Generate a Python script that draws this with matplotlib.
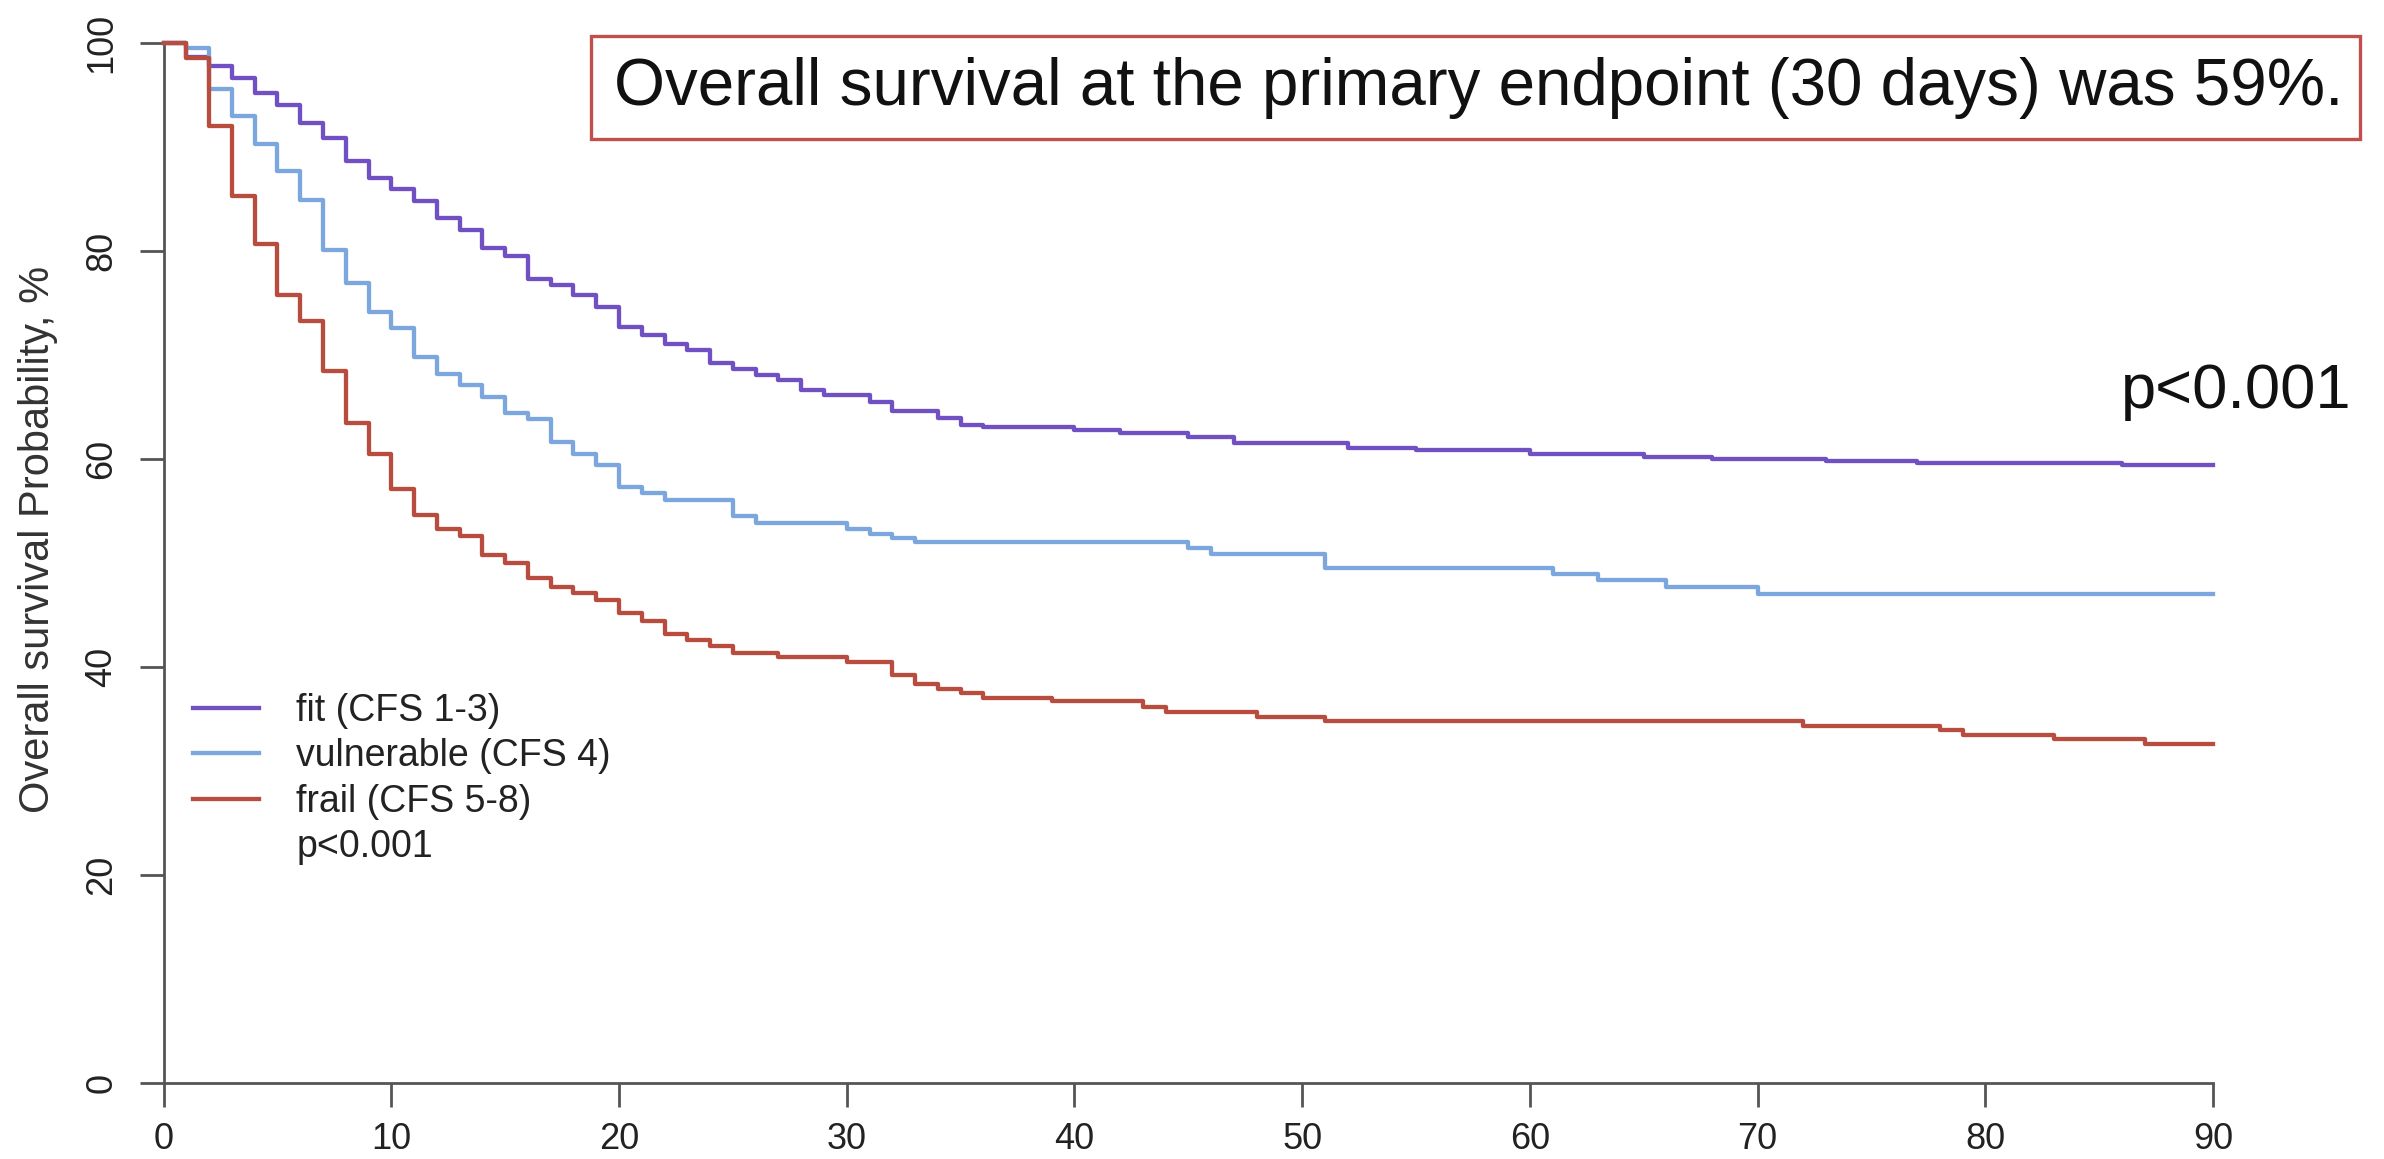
import matplotlib.pyplot as plt
from matplotlib.lines import Line2D
from matplotlib.patches import Rectangle

plt.rcParams['font.family'] = ['Liberation Sans', 'DejaVu Sans']

# Kaplan-Meier steps (day, survival %)
fit_days = [0, 1, 2, 3, 4, 5, 6, 7, 8, 9, 10, 11, 12, 13, 14, 15, 16, 17, 18, 19, 20,
            21, 22, 23, 24, 25, 26, 27, 28, 29, 31, 32, 34, 35, 36, 40, 42, 45, 47,
            52, 55, 60, 65, 68, 73, 77, 86, 90]
fit_surv = [100, 98.7, 97.8, 96.6, 95.2, 94.0, 92.3, 90.9, 88.7, 87.0, 86.0, 84.8, 83.2,
            82.0, 80.3, 79.5, 77.3, 76.7, 75.8, 74.6, 72.7, 71.9, 71.1, 70.5, 69.2, 68.7,
            68.1, 67.6, 66.6, 66.2, 65.5, 64.6, 63.9, 63.3, 63.1, 62.8, 62.5, 62.1, 61.5,
            61.1, 60.9, 60.5, 60.2, 60.0, 59.8, 59.6, 59.4, 59.4]

vuln_days = [0, 1, 2, 3, 4, 5, 6, 7, 8, 9, 10, 11, 12, 13, 14, 15, 16, 17, 18, 19, 20,
             21, 22, 25, 26, 30, 31, 32, 33, 45, 46, 51, 61, 63, 66, 70, 90]
vuln_surv = [100, 99.5, 95.6, 93.0, 90.3, 87.7, 84.9, 80.1, 76.9, 74.1, 72.6, 69.8, 68.2,
             67.1, 66.0, 64.4, 63.8, 61.6, 60.5, 59.4, 57.3, 56.7, 56.1, 54.5, 53.8, 53.3,
             52.8, 52.4, 52.0, 51.4, 50.9, 49.5, 48.9, 48.4, 47.7, 47.0, 47.0]

frail_days = [0, 1, 2, 3, 4, 5, 6, 7, 8, 9, 10, 11, 12, 13, 14, 15, 16, 17, 18, 19, 20,
              21, 22, 23, 24, 25, 27, 30, 32, 33, 34, 35, 36, 39, 43, 44, 48, 51, 72,
              78, 79, 83, 87, 90]
frail_surv = [100, 98.6, 92.0, 85.3, 80.7, 75.8, 73.3, 68.5, 63.5, 60.5, 57.1, 54.6, 53.3,
              52.6, 50.8, 50.0, 48.6, 47.7, 47.1, 46.4, 45.2, 44.4, 43.2, 42.6, 42.0, 41.3,
              41.0, 40.5, 39.2, 38.4, 37.9, 37.5, 37.0, 36.7, 36.2, 35.7, 35.2, 34.8, 34.3,
              33.9, 33.5, 33.1, 32.6, 32.6]

labels = ['fit (CFS 1-3)', 'vulnerable (CFS 4)', 'frail (CFS 5-8)']
colors = ['#7050C2', '#7BA7DE', '#B74C3F']
x_ticks = [0, 10, 20, 30, 40, 50, 60, 70, 80, 90]
y_ticks = [0, 20, 40, 60, 80, 100]

W, H = 2384, 1159
fig = plt.figure(figsize=(W / 100, H / 100), dpi=100)
ax = fig.add_axes([163.6 / W, 1 - 1083 / H, (2213 - 163.6) / W, (1083 - 43) / H])

for days, surv, col in zip([fit_days, vuln_days, frail_days],
                           [fit_surv, vuln_surv, frail_surv], colors):
    ax.step(days, surv, where='post', color=col, lw=3.1, clip_on=False, zorder=3)

ax.set_xlim(0, 90)
ax.set_ylim(0, 100)
ax.set_xticks(x_ticks)
ax.set_yticks(y_ticks)
for s in ['top', 'right']:
    ax.spines[s].set_visible(False)
for s in ['left', 'bottom']:
    ax.spines[s].set_color('#555555')
    ax.spines[s].set_linewidth(2)
ax.tick_params(axis='both', colors='#555555', width=2, length=17, labelcolor='#222222')
ax.tick_params(axis='x', pad=11, labelsize=26)
ax.tick_params(axis='y', pad=15, labelsize=26)
plt.setp(ax.get_yticklabels(), rotation=90, va='center')

fig.text(38 / W, 1 - 539 / H, 'Overall survival Probability, %', rotation=90,
         ha='center', va='center', fontsize=30, color='#333333')

# legend, last row only text
handles = [Line2D([], [], color=c, lw=3.1) for c in colors]
handles.append(Line2D([], [], color='none'))
ax.legend(handles, labels + ['p<0.001'], loc='upper left',
          bbox_to_anchor=(193 / W, 1 - 693 / H), bbox_transform=fig.transFigure,
          frameon=False, fontsize=27, handlelength=1.75, handletextpad=1.0,
          labelspacing=0.25, borderpad=0, borderaxespad=0, labelcolor='#222222')

fig.text(2352 / W, 1 - 408 / H, 'p<0.001', ha='right', va='baseline',
         fontsize=45.5, color='#111111')

# boxed headline
fig.patches.append(Rectangle((591 / W, 1 - 139 / H), (2360 - 591) / W, (139 - 36) / H,
                             transform=fig.transFigure, fill=False,
                             edgecolor='#C0504D', lw=2.4))
fig.text(614 / W, 1 - 88 / H, 'Overall survival at the primary endpoint (30 days) was 59%.',
         ha='left', va='center', fontsize=47.2, color='#111111')

fig.savefig('out.png', dpi=100, facecolor='white')
